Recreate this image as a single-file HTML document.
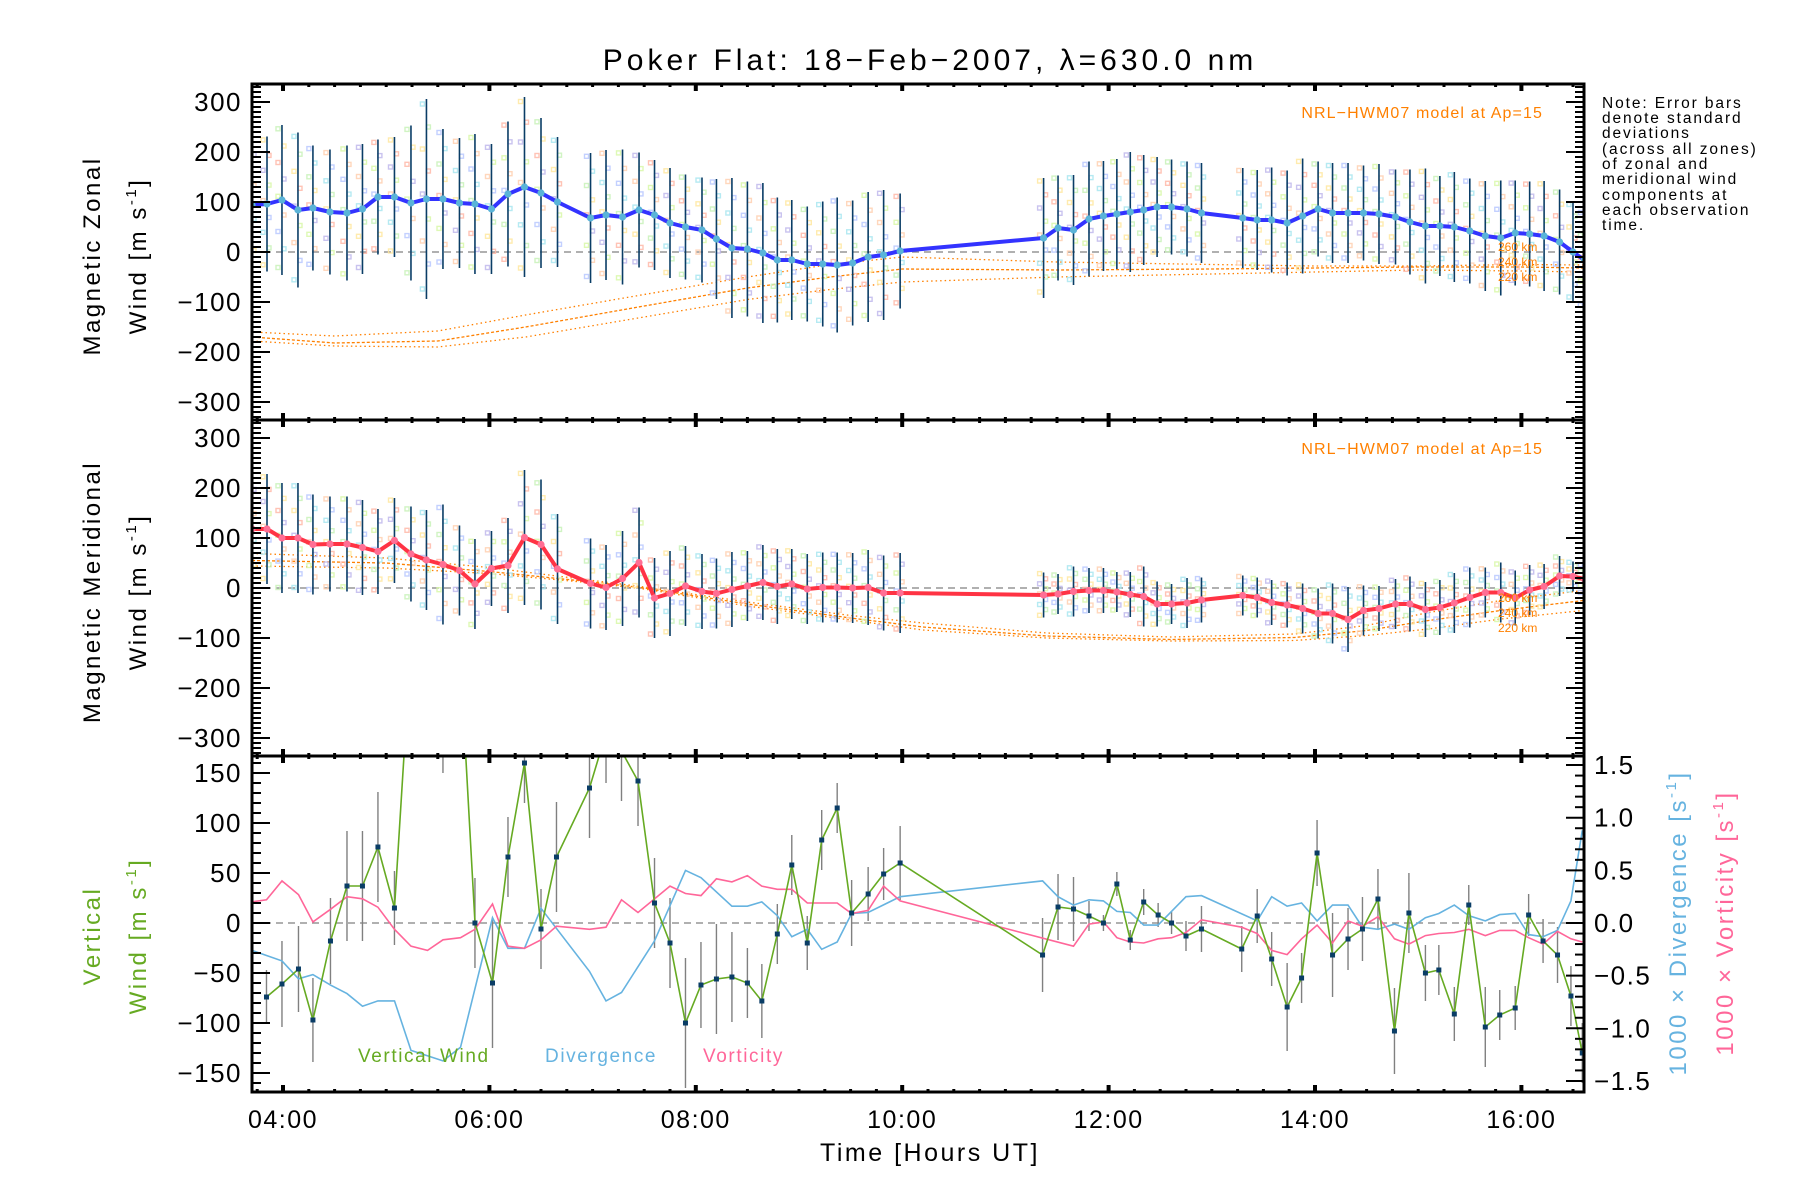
<!DOCTYPE html>
<html><head><meta charset="utf-8"><title>Poker Flat winds</title>
<style>
html,body{margin:0;padding:0;background:#fff;}
svg{display:block;font-family:"Liberation Sans",sans-serif;}
</style></head>
<body>
<svg id="chart" width="1800" height="1200" viewBox="0 0 1800 1200" xmlns="http://www.w3.org/2000/svg">
<defs>
<clipPath id="c1"><rect x="252" y="84" width="1332" height="336"/></clipPath>
<clipPath id="c2"><rect x="252" y="420" width="1332" height="336"/></clipPath>
<clipPath id="c3"><rect x="252" y="756" width="1332" height="336"/></clipPath>
</defs>
<text x="930" y="70" font-size="30" letter-spacing="4" text-anchor="middle">Poker Flat: 18−Feb−2007, λ=630.0 nm</text>
<g id="layer"></g>
<text x="930" y="1161" font-size="25" letter-spacing="2.5" text-anchor="middle">Time [Hours UT]</text>
<g font-size="15.5" letter-spacing="1.9">
<text x="1602" y="108">Note: Error bars</text>
<text x="1602" y="123">denote standard</text>
<text x="1602" y="138">deviations</text>
<text x="1602" y="154">(across all zones)</text>
<text x="1602" y="169">of zonal and</text>
<text x="1602" y="184">meridional wind</text>
<text x="1602" y="200">components at</text>
<text x="1602" y="215">each observation</text>
<text x="1602" y="230">time.</text>
</g>
<g letter-spacing="2.5">
<text transform="translate(100,256) rotate(-90)" font-size="24" text-anchor="middle">Magnetic Zonal</text>
<text transform="translate(146,256) rotate(-90)" font-size="24" text-anchor="middle">Wind [m s<tspan font-size="15" dy="-10">-1</tspan><tspan dy="10">]</tspan></text>
<text transform="translate(100,592) rotate(-90)" font-size="24" text-anchor="middle">Magnetic Meridional</text>
<text transform="translate(146,592) rotate(-90)" font-size="24" text-anchor="middle">Wind [m s<tspan font-size="15" dy="-10">-1</tspan><tspan dy="10">]</tspan></text>
<text transform="translate(100,936) rotate(-90)" font-size="24" text-anchor="middle" fill="#66aa22">Vertical</text>
<text transform="translate(146,936) rotate(-90)" font-size="24" text-anchor="middle" fill="#66aa22">Wind [m s<tspan font-size="15" dy="-10">-1</tspan><tspan dy="10">]</tspan></text>
<text transform="translate(1686,923) rotate(-90)" font-size="24" text-anchor="middle" fill="#66b3e0">1000 × Divergence [s<tspan font-size="15" dy="-10">-1</tspan><tspan dy="10">]</tspan></text>
<text transform="translate(1733,923) rotate(-90)" font-size="24" text-anchor="middle" fill="#ff6699">1000 × Vorticity [s<tspan font-size="15" dy="-10">-1</tspan><tspan dy="10">]</tspan></text>
</g>
<text x="1543" y="118" font-size="16" letter-spacing="1.1" text-anchor="end" fill="#ff8000">NRL−HWM07 model at Ap=15</text>
<text x="1543" y="454" font-size="16" letter-spacing="1.1" text-anchor="end" fill="#ff8000">NRL−HWM07 model at Ap=15</text>
<g font-size="12" fill="#ff8000">
<text x="1498" y="251">260 km</text><text x="1498" y="266">240 km</text><text x="1498" y="281">220 km</text></g>
<g font-size="12" fill="#ff8000">
<text x="1498" y="602">260 km</text><text x="1498" y="617">240 km</text><text x="1498" y="632">220 km</text></g>
<text x="358" y="1062" font-size="19" letter-spacing="1.6" fill="#66aa22">Vertical Wind</text>
<text x="545" y="1062" font-size="19" letter-spacing="1.6" fill="#66b3e0">Divergence</text>
<text x="703" y="1062" font-size="19" letter-spacing="1.6" fill="#ff6699">Vorticity</text>
</svg>
<script>
const obsTimes=[3.70,3.845,3.99,4.145,4.29,4.455,4.62,4.77,4.92,5.08,5.24,5.39,5.55,5.71,5.86,6.02,6.18,6.34,6.50,6.66,6.98,7.13,7.29,7.45,7.60,7.75,7.90,8.06,8.20,8.35,8.50,8.65,8.79,8.93,9.08,9.23,9.37,9.52,9.67,9.82,9.98,11.37,11.51,11.66,11.81,11.95,12.08,12.21,12.34,12.47,12.61,12.76,12.90,13.30,13.44,13.58,13.73,13.88,14.03,14.17,14.32,14.47,14.62,14.78,14.92,15.07,15.21,15.35,15.50,15.65,15.80,15.94,16.08,16.22,16.37,16.50,16.61];
const zonalWind=[94,96,104,84,88,80,78,86,110,110,98,106,106,98,96,86,116,130,118,100,68,74,70,84,74,58,50,44,26,8,6,-2,-16,-16,-24,-24,-26,-22,-10,-6,2,28,48,44,66,72,76,80,84,90,90,86,78,68,64,64,58,72,86,78,78,78,76,70,60,52,52,50,42,32,28,38,36,32,20,0,-16];
const zonalErr=[140,135,150,155,125,125,135,130,115,120,155,200,140,130,140,130,145,180,150,130,130,130,135,115,110,110,105,105,120,140,135,140,125,120,115,125,135,125,130,130,115,120,105,110,115,110,110,120,110,100,95,95,100,100,100,105,105,115,95,100,100,95,100,95,105,115,100,110,105,110,115,105,105,110,105,100,100];
const meridWind=[118,118,100,100,87,88,88,81,73,95,68,56,47,35,8,39,45,101,87,38,9,1,19,51,-20,-11,4,-7,-11,-3,4,11,3,8,-2,1,1,0,1,-10,-10,-14,-12,-7,-5,-5,-8,-13,-17,-32,-32,-30,-24,-15,-19,-29,-34,-41,-51,-51,-63,-45,-41,-32,-32,-43,-39,-30,-19,-9,-9,-20,-4,3,24,23,18];
const meridErr=[110,110,110,110,100,95,95,95,85,85,95,100,120,90,90,75,95,135,130,110,90,85,95,110,80,85,80,75,70,75,70,75,75,70,70,70,70,70,75,75,80,45,40,50,45,45,40,45,60,45,40,50,45,40,40,45,45,50,50,60,65,50,45,50,55,55,55,60,60,50,60,55,50,45,40,30,30];
const modelT1=[3.7,4.5,5.5,6.35,7.5,8.5,9.3,10,11.5,13,14,15,16,16.6];
const zonalModel260=[-160,-168,-158,-126,-85,-50,-25,-10,-20,-25,-28,-28,-25,-26];
const zonalModel240=[-170,-182,-178,-150,-108,-72,-50,-34,-36,-34,-32,-30,-30,-32];
const zonalModel220=[-178,-188,-190,-170,-130,-95,-75,-60,-50,-44,-40,-36,-38,-40];
const modelT2=[3.7,5,6,7,7.5,8.5,9.5,10.2,11.4,12.6,13.8,14.5,15.1,15.8,16.6];
const meridModel260=[69,60,41,15,2,-28,-55,-70,-90,-98,-92,-75,-49,-25,-5];
const meridModel240=[55,50,33,12,0,-32,-60,-78,-96,-103,-99,-85,-65,-45,-25];
const meridModel220=[44,40,29,10,-2,-36,-64,-84,-100,-106,-105,-95,-82,-62,-45];
const vwTimes=[3.84,3.99,4.15,4.29,4.46,4.62,4.77,4.92,5.08,5.24,5.55,5.71,5.86,6.03,6.18,6.34,6.50,6.65,6.97,7.13,7.28,7.44,7.60,7.75,7.90,8.05,8.20,8.35,8.50,8.64,8.79,8.93,9.08,9.22,9.37,9.51,9.67,9.82,9.98,11.36,11.51,11.66,11.81,11.95,12.08,12.21,12.34,12.48,12.61,12.75,12.90,13.29,13.44,13.58,13.73,13.87,14.02,14.17,14.32,14.46,14.61,14.77,14.91,15.07,15.20,15.35,15.49,15.65,15.79,15.94,16.07,16.21,16.35,16.48,16.59];
const vwValues=[-74,-61,-46,-97,-18,37,37,76,15,280,250,280,0,-60,66,160,-6,66,135,190,172,142,20,-20,-100,-62,-56,-54,-60,-78,-11,58,-20,83,115,10,29,49,60,-32,16,14,7,0,39,-17,21,8,0,-13,-6,-26,7,-36,-84,-55,70,-32,-16,-6,24,-108,10,-50,-47,-91,18,-104,-92,-85,8,-18,-32,-73,-130];
const vwErr=[27,43,43,42,43,55,55,55,37,100,100,100,45,65,40,40,40,55,50,50,50,45,45,45,65,43,55,45,35,37,30,30,27,30,25,33,27,26,37,37,33,32,15,8,12,10,13,12,11,15,23,23,27,27,44,25,33,42,31,32,30,43,40,28,25,27,20,40,25,22,21,22,28,30,30];
const divTimes=[3.70,3.99,4.15,4.29,4.46,4.62,4.77,4.92,5.08,5.24,5.55,5.72,6.03,6.18,6.34,6.50,6.97,7.13,7.28,7.60,7.90,8.05,8.35,8.50,8.64,8.79,8.93,9.08,9.22,9.37,9.51,9.67,9.98,11.36,11.51,11.66,11.81,11.95,12.08,12.21,12.34,12.48,12.75,12.90,13.44,13.58,13.73,13.87,14.02,14.17,14.32,14.46,14.61,14.77,14.91,15.07,15.20,15.35,15.49,15.65,15.79,15.94,16.07,16.21,16.35,16.48,16.59];
const divValues=[-0.26,-0.36,-0.53,-0.49,-0.59,-0.67,-0.79,-0.74,-0.74,-1.21,-1.31,-1.18,0.05,-0.24,-0.24,0.14,-0.46,-0.74,-0.66,-0.17,0.50,0.43,0.16,0.16,0.20,0.07,-0.13,-0.06,-0.25,-0.18,0.09,0.10,0.25,0.40,0.25,0.17,0.22,0.21,0.11,0.10,-0.02,-0.02,0.25,0.26,0.02,0.25,0.16,0.19,0.02,0.17,0.17,-0.04,-0.06,-0.01,-0.06,0.05,0.09,0.17,0.07,0.02,0.08,0.09,-0.11,-0.13,-0.07,0.21,0.88];
const vortTimes=[3.70,3.84,3.99,4.15,4.29,4.46,4.62,4.77,4.92,5.08,5.24,5.40,5.55,5.72,5.86,6.03,6.18,6.34,6.50,6.65,6.97,7.13,7.28,7.44,7.75,7.90,8.05,8.20,8.35,8.50,8.64,8.79,8.93,9.08,9.37,9.51,9.67,9.82,9.98,11.66,11.81,11.95,12.08,12.21,12.34,12.48,12.61,12.75,12.90,13.29,13.44,13.58,13.73,13.87,14.02,14.17,14.32,14.46,14.61,14.77,14.91,15.07,15.20,15.35,15.49,15.65,15.79,15.94,16.07,16.21,16.35,16.48,16.59];
const vortValues=[0.20,0.22,0.40,0.27,0.01,0.13,0.25,0.23,0.15,-0.06,-0.22,-0.26,-0.16,-0.14,-0.06,0.18,-0.22,-0.24,-0.16,-0.03,-0.06,-0.04,0.22,0.10,0.35,0.28,0.26,0.42,0.39,0.45,0.35,0.32,0.32,0.19,0.19,0.09,0.12,0.35,0.21,-0.22,-0.01,0.01,-0.14,-0.18,-0.19,-0.15,-0.14,-0.09,0.03,-0.04,-0.10,-0.26,-0.30,-0.15,-0.02,-0.19,0.02,-0.03,0.06,-0.15,-0.20,-0.12,-0.10,-0.09,-0.06,-0.12,-0.07,-0.07,-0.14,-0.20,-0.08,-0.15,-0.18];
const xTickLabels=["04:00","06:00","08:00","10:00","12:00","14:00","16:00"];
const windTicks=[300,200,100,0,-100,-200,-300];
const vertTicks=[150,100,50,0,-50,-100,-150];
const rightTicks=[1.5,1.0,0.5,0.0,-0.5,-1.0,-1.5];

const NS="http://www.w3.org/2000/svg";
const layer=document.getElementById('layer');
const L=252,R=1584;
function xs(t){return 283+(t-4)*103.2;}
function ys1(v){return 252-v*0.5;}
function ys2(v){return 588-v*0.5;}
function ys3(v){return 923-v;}
function ysR(v){return 923-v*105.3;}
function mk(tag,attrs,parent){const e=document.createElementNS(NS,tag);for(const k in attrs)e.setAttribute(k,attrs[k]);(parent||layer).appendChild(e);return e;}
function grp(clip){const g=mk('g',clip?{'clip-path':'url(#'+clip+')'}:{});return g;}
function pts(ts,vs,f){const n=Math.min(ts.length,vs.length);let s=[];for(let i=0;i<n;i++)s.push(xs(ts[i]).toFixed(1)+','+f(vs[i]).toFixed(1));return s.join(' ');}
const pastel=['#ffb8a8','#ffe8a0','#c8f2b8','#a8e6f0','#b8c8ff','#ffd0b0','#d8f8a8','#c0b8ec'];
const fr=[-0.9,-0.65,-0.42,-0.2,0.05,0.28,0.5,0.72,0.95];

function windPanel(n,ys,vals,errs,clip,lineCol,mCol,models,modelT){
  const g=grp(clip);
  const z=mk('line',{x1:L,x2:R,y1:ys(0),y2:ys(0),stroke:'#808080','stroke-width':1.3,'stroke-dasharray':'7,5'},g);
  
  
  const mnames=['260','240','220'];
  models.forEach((m,j)=>{
    const p=mk('polyline',{points:pts(modelT,m,ys),fill:'none',stroke:'#ff8000','stroke-width':1.3,'stroke-dasharray':j==1?'3,2':'1.5,3'},g);
    
    
  });
  const cnt=Math.min(obsTimes.length,vals.length,errs.length);
  for(let i=0;i<cnt;i++){
    const x=xs(obsTimes[i]);
    for(let k=0;k<fr.length;k++){
      const sq=mk('rect',{x:(x-6+(k%2)*6).toFixed(1),y:(ys(vals[i]+fr[k]*errs[i])-2).toFixed(1),width:4,height:4,fill:'none',stroke:pastel[(i+k)%pastel.length],'stroke-width':1.4,opacity:0.85},g);
      
      
    }
    const eb=mk('line',{x1:x,x2:x,y1:ys(vals[i]+errs[i]),y2:ys(vals[i]-errs[i]),stroke:'#0a3d66','stroke-width':1.6},g);
    
    
  }
  const ln=mk('polyline',{points:pts(obsTimes,vals,ys),fill:'none',stroke:lineCol,'stroke-width':4,'stroke-linejoin':'round'},g);
  
  
  for(let i=0;i<cnt;i++){
    const c=mk('circle',{cx:xs(obsTimes[i]),cy:ys(vals[i]),r:3.6,fill:mCol},g);
    
    
  }
}
windPanel('zonal',ys1,zonalWind,zonalErr,'c1','#3333ff','#5ab4d8',[zonalModel260,zonalModel240,zonalModel220],modelT1);
windPanel('meridional',ys2,meridWind,meridErr,'c2','#ff3344','#ff6f94',[meridModel260,meridModel240,meridModel220],modelT2);

(function(){
  const g=grp('c3');
  const z=mk('line',{x1:L,x2:R,y1:ys3(0),y2:ys3(0),stroke:'#808080','stroke-width':1.3,'stroke-dasharray':'7,5'},g);
  
  
  const cnt=Math.min(vwTimes.length,vwValues.length,vwErr.length);
  for(let i=0;i<cnt;i++){
    const x=xs(vwTimes[i]);
    const eb=mk('line',{x1:x,x2:x,y1:ys3(vwValues[i]+vwErr[i]),y2:ys3(vwValues[i]-vwErr[i]),stroke:'#808080','stroke-width':1.4},g);
    
    
  }
  const dv=mk('polyline',{points:pts(divTimes,divValues,ysR),fill:'none',stroke:'#66b3e0','stroke-width':1.6},g);
  
  
  const vo=mk('polyline',{points:pts(vortTimes,vortValues,ysR),fill:'none',stroke:'#ff6699','stroke-width':1.6},g);
  
  
  const vw=mk('polyline',{points:pts(vwTimes,vwValues,ys3),fill:'none',stroke:'#66aa22','stroke-width':1.6},g);
  
  
  for(let i=0;i<cnt;i++){
    const s=mk('rect',{x:xs(vwTimes[i])-2.5,y:ys3(vwValues[i])-2.5,width:5,height:5,fill:'#0a3d66'},g);
    
    
  }
})();

function frame(n,top,bot){
  const r=mk('rect',{x:L,y:top,width:R-L,height:bot-top,fill:'none',stroke:'#000','stroke-width':3});
  
  
  for(let q=0;q<=51;q++){
    const t=3.75+q*0.25; const x=xs(t); if(x<L||x>R)continue;
    const major=Math.abs((t-4)/2-Math.round((t-4)/2))<1e-6;
    const len=major?7:3, w=major?4:3;
    const a=mk('line',{x1:x,x2:x,y1:top,y2:top+len,stroke:'#000','stroke-width':w});
    
    
    const b=mk('line',{x1:x,x2:x,y1:bot,y2:bot-len,stroke:'#000','stroke-width':w});
    
    
  }
}
function yTicks(n,ys,lo,hi,minor,major,labels,side,fmt){
  const x0=side==='left'?L:R, dir=side==='left'?1:-1;
  for(let v=lo;v<=hi+1e-9;v+=minor){
    const vv=Math.round(v/minor)*minor;
    const isMaj=Math.abs(vv/major-Math.round(vv/major))<1e-6;
    const len=isMaj?18:9;
    const t=mk('line',{x1:x0,x2:x0+dir*len,y1:ys(vv),y2:ys(vv),stroke:'#000','stroke-width':2});
    
    
  }
  if(labels){
    labels.forEach(v=>{
      const s=fmt(v);
      const tx=mk('text',{x:side==='left'?L-10:R+10,y:ys(v)+9,'font-size':26,'letter-spacing':1.5,'text-anchor':side==='left'?'end':'start'});
      tx.textContent=s;
      
      
    });
  }
}
const fmtInt=v=>(v<0?'−'+Math.abs(v):String(v));
const fmtDec=v=>(v<0?'−'+Math.abs(v).toFixed(1):v.toFixed(1));
frame('zonal-panel',84,420);
yTicks('zonal',ys1,-330,330,10,100,windTicks,'left',fmtInt);
yTicks('zonal',ys1,-330,330,10,100,null,'right',fmtInt);
frame('meridional-panel',420,756);
yTicks('meridional',ys2,-330,330,10,100,windTicks,'left',fmtInt);
yTicks('meridional',ys2,-330,330,10,100,null,'right',fmtInt);
frame('vertical-panel',756,1092);
yTicks('vertical',ys3,-160,160,10,50,vertTicks,'left',fmtInt);
yTicks('divergence',ysR,-1.5,1.5,0.1,0.5,rightTicks,'right',fmtDec);
xTickLabels.forEach((s,i)=>{
  const tx=mk('text',{x:xs(4+2*i),y:1128,'font-size':25,'letter-spacing':1.5,'text-anchor':'middle'});
  tx.textContent=s;
  
  
});
</script>
</body></html>
